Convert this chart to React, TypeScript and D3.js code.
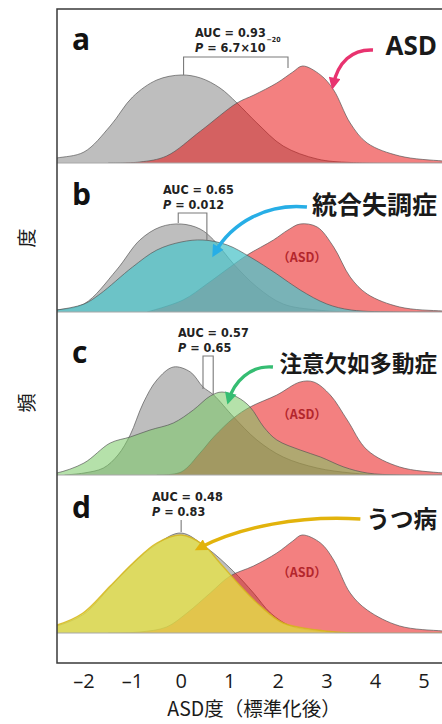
import * as d3 from 'd3';

type Pt = [number, number];

// x: ASD score (standardised), y: density height (panel units)
const xTicks = [-2, -1, 0, 1, 2, 3, 4, 5];
const panelLetters = ['a', 'b', 'c', 'd'];
const groupNames = ['ASD', '統合失調症', '注意欠如多動症', 'うつ病'];
const aucValues = ['0.93', '0.65', '0.57', '0.48'];
const pValues = ['6.7×10', '0.012', '0.65', '0.83'];
const pExponents = ['−20', '', '', ''];

const controlA: Pt[] = [[-2.8, 3], [-2.56, 5], [-2.0, 11], [-1.46, 37], [-1.0, 66], [-0.5, 83], [0, 88], [0.4, 85], [0.8, 75], [1.15, 60], [1.56, 40], [2.1, 17], [2.8, 4], [3.5, 0.5], [5.6, 0]];
const asdA: Pt[] = [[-1.5, 0], [-0.85, 1], [-0.3, 7], [0.4, 32], [1.15, 60], [1.5, 68], [1.97, 80], [2.3, 91], [2.5, 97], [2.87, 88], [3.14, 73], [3.48, 40], [3.83, 20], [4.5, 7], [5.4, 2], [5.8, 1]];

const controlB: Pt[] = [[-2.8, 1], [-2.56, 2], [-2.0, 8], [-1.33, 42], [-0.85, 72], [-0.43, 85], [0, 88], [0.39, 83], [0.67, 72], [1.08, 48], [1.56, 25], [2.1, 8], [2.8, 2], [3.5, 0], [5.6, 0]];
const sczB: Pt[] = [[-2.8, 1], [-2.56, 2], [-2.0, 8], [-1.67, 18], [-1.0, 45], [-0.5, 62], [0, 70], [0.45, 72], [0.95, 67], [1.42, 55], [1.97, 38], [2.45, 22], [3.0, 8], [3.5, 2], [4.5, 0], [5.6, 0]];
const asdB: Pt[] = [[-0.7, 0], [0.04, 12], [0.53, 28], [1.01, 45], [1.36, 57], [1.9, 72], [2.2, 82], [2.45, 88], [2.8, 85], [3.14, 65], [3.48, 35], [3.83, 18], [4.5, 5], [5.4, 1], [5.8, 0.5]];

const controlC: Pt[] = [[-2.4, 0], [-2.0, 2], [-1.6, 7], [-1.3, 20], [-1.05, 40], [-0.78, 72], [-0.5, 95], [-0.16, 108], [0.19, 103], [0.45, 88], [0.67, 80], [1.08, 58], [1.56, 35], [2.1, 18], [2.8, 7], [3.5, 2], [4.2, 0], [5.6, 0]];
const adhdC: Pt[] = [[-2.8, 1], [-2.56, 2], [-2.0, 12], [-1.46, 32], [-1.05, 38], [-0.64, 45], [-0.16, 52], [0.25, 65], [0.6, 79], [0.84, 83], [1.15, 78], [1.42, 68], [1.7, 48], [1.97, 35], [2.45, 25], [2.87, 18], [3.35, 8], [3.83, 2], [4.5, 0], [5.6, 0]];
const asdC: Pt[] = [[-0.5, 0], [0, 3], [0.39, 22], [0.67, 38], [1.08, 57], [1.42, 68], [1.97, 80], [2.45, 93], [2.73, 93], [3.07, 80], [3.42, 55], [3.83, 25], [4.5, 8], [5.4, 2], [5.8, 1]];

const controlD: Pt[] = [[-2.8, 5], [-2.56, 7], [-2.0, 19], [-1.46, 46], [-1.0, 69], [-0.5, 89], [0, 100], [0.53, 85], [1.07, 62], [1.49, 40], [1.84, 20], [2.25, 7], [2.8, 2], [3.5, 0], [5.6, 0]];
const mddD: Pt[] = [[-2.8, 6], [-2.56, 8], [-2.02, 20], [-1.46, 47], [-0.99, 70], [-0.5, 90], [0, 98], [0.46, 88], [0.8, 70], [1.22, 47], [1.63, 27], [2.1, 10], [2.8, 3], [3.5, 0], [5.6, 0]];
const asdD: Pt[] = [[-1.5, 0], [-0.85, 1], [-0.3, 6], [0.12, 20], [0.6, 40], [1.01, 57], [1.49, 67], [1.97, 80], [2.3, 92], [2.49, 98], [2.87, 90], [3.14, 73], [3.48, 40], [3.83, 23], [4.5, 7], [5.4, 2], [5.8, 1]];

const GRAY = 'rgb(190,190,190)';
const RED = 'rgba(232,12,12,0.52)';
const CYAN = 'rgba(80,196,202,0.75)';
const GREEN = 'rgba(120,200,100,0.55)';
const YELLOW = 'rgba(230,225,70,0.78)';
const OUTLINE = '#555';

export default function App() {
  const W = 442, H = 724;
  const frameL = 57, frameT = 9, frameB = 663;
  const x = d3.scaleLinear().domain([-2, 5]).range([84, 424]);
  const tops = [9, 163, 312, 475];
  const baselines = [163, 312, 475, 633];
  const ys = baselines.map(b => d3.scaleLinear().domain([0, 100]).range([b, b - 100]));
  const curve = d3.curveCatmullRom.alpha(0.5);

  const panels = [
    {
      layers: [{ d: controlA, fill: GRAY, stroke: OUTLINE }, { d: asdA, fill: RED, stroke: OUTLINE }],
      color: '#e8336f', letterY: 50, aucX: 195, aucY: 37,
      bracket: { l: [0.05, 88], r: [2.2, 95], top: 106 },
      arrow: [[3.95, 113], [3.52, 114], [3.23, 101], [3.13, 78]],
      nameSize: 26, nameY: 55, asdTag: null,
    },
    {
      layers: [{ d: controlB, fill: GRAY, stroke: OUTLINE }, { d: asdB, fill: RED, stroke: OUTLINE }, { d: sczB, fill: CYAN, stroke: OUTLINE }],
      color: '#27aee6', letterY: 205, aucX: 163, aucY: 194,
      bracket: { l: [-0.06, 89], r: [0.53, 72], top: 99 },
      arrow: [[2.59, 105], [1.79, 109], [1.05, 90], [0.69, 59]],
      nameSize: 25, nameY: 214, asdTag: 262,
    },
    {
      layers: [{ d: controlC, fill: GRAY, stroke: OUTLINE }, { d: asdC, fill: RED, stroke: OUTLINE }, { d: adhdC, fill: GREEN, stroke: OUTLINE }],
      color: '#35bd72', letterY: 363, aucX: 178, aucY: 337,
      bracket: { l: [0.45, 86], r: [0.66, 80], top: 119 },
      arrow: [[1.89, 108], [1.42, 110], [1.09, 93], [0.98, 75]],
      nameSize: 22.5, nameY: 372, asdTag: 419,
    },
    {
      layers: [{ d: controlD, fill: GRAY, stroke: OUTLINE }, { d: asdD, fill: RED, stroke: OUTLINE }, { d: mddD, fill: YELLOW, stroke: '#d6b51c' }],
      color: '#e2b30c', letterY: 518, aucX: 152, aucY: 501,
      bracket: { l: [0, 101], r: [0, 101], top: 113 },
      arrow: [[3.69, 114], [2.45, 118], [1.21, 106], [0.37, 85]],
      nameSize: 23.5, nameY: 528, asdTag: 577,
    },
  ];

  const aucFont = "'Liberation Sans Narrow', 'DejaVu Sans Condensed', sans-serif";
  const jpFont = "'Noto Sans CJK JP', sans-serif";

  return (
    <svg width={W} height={H} style={{ position: 'absolute', left: 0, top: 0, background: '#fff' }}>
      <defs>
        {panels.map((p, i) => (
          <clipPath id={`clip${i}`} key={i}>
            <rect x={frameL} y={tops[i]} width={W - frameL} height={baselines[i] - tops[i]} />
          </clipPath>
        ))}
        {panels.map((p, i) => (
          <marker id={`arrow${i}`} key={i} viewBox="0 0 10 10" refX={6} refY={5}
            markerUnits="userSpaceOnUse" markerWidth={13} markerHeight={12} orient="auto">
            <path d="M0,0 L10,5 L0,10 z" fill={p.color} />
          </marker>
        ))}
      </defs>

      {panels.map((p, i) => {
        const y = ys[i];
        const area = d3.area<Pt>().x(d => x(d[0])).y0(y(0)).y1(d => y(d[1])).curve(curve);
        const line = d3.line<Pt>().x(d => x(d[0])).y(d => y(d[1])).curve(curve);
        const b = p.bracket;
        const a = p.arrow.map(([v, h]) => [x(v), y(h)]);
        const arrowPath = `M${a[0][0]},${a[0][1]} C${a[1][0]},${a[1][1]} ${a[2][0]},${a[2][1]} ${a[3][0]},${a[3][1]}`;
        return (
          <g key={i}>
            <g clipPath={`url(#clip${i})`}>
              {p.layers.map((l, j) => (
                <g key={j}>
                  <path d={area(l.d) || ''} fill={l.fill} />
                  <path d={line(l.d) || ''} fill="none" stroke={l.stroke} strokeWidth={l.stroke === OUTLINE ? 0.8 : 1.4} strokeOpacity={0.85} />
                </g>
              ))}
            </g>
            <line x1={frameL} x2={W} y1={baselines[i]} y2={baselines[i]} stroke="#a8a8a8" strokeWidth={1.2} />
            <text x={72} y={p.letterY} fontFamily="'Open Sans', sans-serif" fontWeight={700} fontSize={30} fill="#111">{panelLetters[i]}</text>
            <path d={`M${x(b.l[0])},${y(b.l[1])} V${y(b.top)} H${x(b.r[0])} V${y(b.r[1])}`} fill="none" stroke="#7a7a7a" strokeWidth={1.1} />
            <text x={p.aucX} y={p.aucY} fontFamily={aucFont} fontWeight={700} fontSize={12.5} fill="#222">AUC = {aucValues[i]}</text>
            <text x={p.aucX} y={p.aucY + 14.5} fontFamily={aucFont} fontWeight={700} fontSize={12.5} fill="#222">
              <tspan fontStyle="italic">P</tspan> = {pValues[i]}
              {pExponents[i] && <tspan fontSize={7} dx={1} dy={-10}>{pExponents[i]}</tspan>}
            </text>
            <path d={arrowPath} fill="none" stroke={p.color} strokeWidth={3.4} markerEnd={`url(#arrow${i})`} />
            <text x={437} y={p.nameY} textAnchor="end" fontFamily={i === 0 ? "'Open Sans', sans-serif" : jpFont}
              fontWeight={700} fontSize={p.nameSize} fill="#1a1a1a">{groupNames[i]}</text>
            {p.asdTag && (
              <text x={302} y={p.asdTag} textAnchor="middle" fontFamily={jpFont} fontWeight={700} fontSize={12.5} fill="#b3262c">（ASD）</text>
            )}
          </g>
        );
      })}

      <path d={`M${W + 2},${frameT} H${frameL} V${frameB} H${W + 2}`} fill="none" stroke="#3a3a3a" strokeWidth={1.5} />

      {xTicks.map(t => (
        <text key={t} x={x(t)} y={688} textAnchor="middle" fontFamily="'Open Sans', sans-serif" fontSize={20} fill="#1a1a1a">
          {t < 0 ? `–${Math.abs(t)}` : t}
        </text>
      ))}
      <text x={254} y={716} textAnchor="middle" fontFamily={jpFont} fontSize={19.5} fill="#1a1a1a">ASD度（標準化後）</text>

      <text transform="translate(25,238) rotate(-90)" textAnchor="middle" dominantBaseline="central" fontFamily={jpFont} fontSize={19} fill="#1a1a1a">度</text>
      <text transform="translate(25,403) rotate(-90)" textAnchor="middle" dominantBaseline="central" fontFamily={jpFont} fontSize={19} fill="#1a1a1a">頻</text>
    </svg>
  );
}
